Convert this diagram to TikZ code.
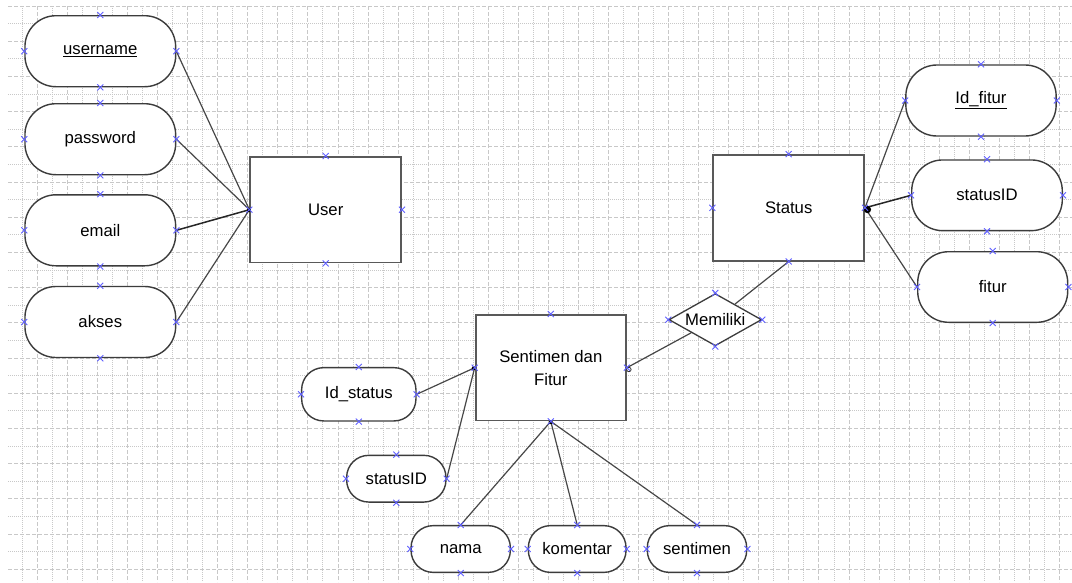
\documentclass[tikz,border=0pt]{standalone}
\usepackage{fontspec}
\setmainfont{Liberation Sans}
\usetikzlibrary{shapes.geometric,calc}
\definecolor{mkblue}{RGB}{95,95,255}
\definecolor{gridc}{RGB}{200,200,200}
\definecolor{edgec}{RGB}{60,60,60}
\newcommand{\txt}{\fontsize{16.7}{23}\selectfont}
\tikzset{
  gridda/.style={gridc, line width=0.9pt, dash pattern=on 4pt off 2pt},
  griddo/.style={gridc, line width=0.9pt, dash pattern=on 1pt off 1pt},
  attrbig/.style={draw=edgec, line width=1.4pt, fill=white, rounded corners=31pt,
    minimum width=150.7pt, minimum height=71pt, inner sep=0pt, font=\txt},
  attrsmall/.style={draw=edgec, line width=1.4pt, fill=white, rounded corners=22pt,
    minimum width=99.3pt, minimum height=46.7pt, inner sep=0pt, font=\txt},
  entity/.style={draw=black!65, line width=1.9pt, fill=white,
    minimum width=150.7pt, minimum height=105.5pt, inner sep=0pt, font=\txt, align=center},
  rel/.style={diamond, draw=edgec, line width=1.3pt, fill=white,
    minimum width=92.7pt, minimum height=46pt, inner sep=0pt, font=\txt},
  conn/.style={draw=black!72, line width=1.2pt},
  mk/.style={mkblue, line width=0.9pt},
}
\begin{document}
\begin{tikzpicture}[x=1pt,y=-1pt]
\useasboundingbox (0,0) rectangle (1072,582);
\fill[white] (0,0) rectangle (1072,582);
% grid
\foreach \k in {2,4,...,70} \draw[gridda] ({7.3+15.03*\k},6) -- ({7.3+15.03*\k},582);
\foreach \k in {1,3,...,69} \draw[griddo] ({7.3+15.03*\k},6) -- ({7.3+15.03*\k},582);
\foreach \k in {0,2,...,32} \draw[gridda] (8,{6+17.6*\k}) -- (1072,{6+17.6*\k});
\foreach \k in {1,3,...,31} \draw[griddo] (8,{6+17.6*\k}) -- (1072,{6+17.6*\k});

% entities
\node[entity] (user) at (325.7,209.7) {User};
\node[entity] (status) at (788.7,207.8) {Status};
\node[entity, minimum width=150.3pt] (sent) at (550.8,367.7) {Sentimen dan\\Fitur};

% relationship
\node[rel] (mem) at (715.3,319.7) {\makebox[40pt]{Memiliki}};

% attributes of User
\node[attrbig] (un) at (100.3,51.2) {\underline{username}};
\node[attrbig] (pw) at (100.3,139.2) {password};
\node[attrbig] (em) at (100.3,230.3) {email};
\node[attrbig] (ak) at (100.3,322) {akses};

% attributes of Status
\node[attrbig, minimum width=150.3pt] (idf) at (981,100.5) {\underline{Id\_fitur}};
\node[attrbig, minimum width=150.6pt, minimum height=70.7pt] (sid) at (987,195.3) {statusID};
\node[attrbig, minimum width=150pt, minimum height=70.6pt] (fit) at (992.7,287) {fitur};

% attributes of Sentimen dan Fitur
\node[attrsmall, minimum width=114.3pt, minimum height=53.3pt] (ids) at (358.8,394.3) {Id\_status};
\node[attrsmall] (sid2) at (396.3,478.7) {statusID};
\node[attrsmall] (nam) at (460.7,549) {nama};
\node[attrsmall, minimum width=97.7pt] (kom) at (577.2,549) {komentar};
\node[attrsmall, minimum width=99.4pt] (stm) at (697,549) {sentimen};

% connectors
\draw[conn] (un.east) -- (user.west);
\draw[conn] (pw.east) -- (user.west);
\draw[conn, line width=1.5pt, draw=black!85] (em.east) -- (user.west);
\draw[conn] (ak.east) -- (user.west);

\draw[conn] (status.east) -- (idf.west);
\draw[conn, line width=1.5pt, draw=black!85] (status.east) -- (sid.west);
\draw[conn] (status.east) -- (fit.west);

\draw[conn] (status.south) -- (mem);
\draw[conn] (mem) -- (sent.east);

\draw[conn] (ids.east) -- (sent.west);
\draw[conn] (sid2.east) -- (sent.west);
\draw[conn] (sent.south) -- (nam.north);
\draw[conn] (sent.south) -- (kom.north);
\draw[conn] (sent.south) -- (stm.north);

% end decorations
\fill[black] ($(user.west)+(-0.5,0.5)$) circle[radius=2pt];
\fill[black] ($(status.east)+(2.5,1.8)$) circle[radius=3.6pt];
\fill[black] ($(sent.south)+(0,0.8)$) circle[radius=2pt];
\fill[black] ($(sent.west)+(-1,0.5)$) circle[radius=2pt];
\draw[black!80, line width=0.8pt] ($(sent.east)+(2,1.8)$) circle[radius=2.2pt];

% connection point markers
\foreach \n in {user,status,sent,mem,un,pw,em,ak,idf,sid,fit,ids,sid2,nam,kom,stm}
  \foreach \a in {north,south,east,west}
    \draw[mk] (\n.\a) +(-3,-3) -- +(3,3) +(-3,3) -- +(3,-3);
\end{tikzpicture}
\end{document}
